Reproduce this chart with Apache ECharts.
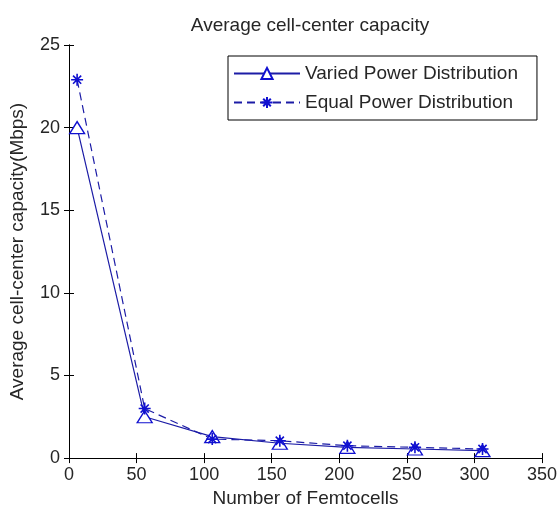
<!DOCTYPE html>
<html>
<head>
<meta charset="utf-8">
<script src="https://cdn.jsdelivr.net/npm/echarts@6/dist/echarts.min.js"></script>
<style>
  html, body { margin: 0; padding: 0; background: #fff; }
  #chart { width: 560px; height: 513px; }
</style>
</head>
<body>
<div id="chart"></div>
<script>
// Number of femtocells
const femtocells = [6, 56, 106, 156, 206, 256, 306];
// Average cell-center capacity (Mbps)
const variedPower = [20.0, 2.5, 1.3, 0.9, 0.65, 0.55, 0.45];
const equalPower = [22.9, 3.0, 1.15, 1.05, 0.75, 0.65, 0.55];

const seriesNames = ["Varied Power Distribution", "Equal Power Distribution"];

const font = "Liberation Sans, Arial, sans-serif";
const textColor = "#262626";
const blue = "#1c1ca6";
const starPath = "path://M0,5L10,5M5,0L5,10M1.6,1.6L8.4,8.4M8.4,1.6L1.6,8.4";

const toPairs = (xs, ys) => xs.map((x, i) => [x, ys[i]]);

const chart = echarts.init(document.getElementById("chart"));

const option = {
  backgroundColor: "#fff",
  animation: false,
  title: {
    text: "Average cell-center capacity",
    left: 305,
    top: 11,
    textAlign: "center",
    textStyle: { fontFamily: font, fontSize: 19, fontWeight: "normal", color: textColor },
  },
  legend: {
    orient: "vertical",
    left: 228,
    top: 56,
    borderColor: "#000",
    borderWidth: 1,
    padding: [8, 19, 8, 5],
    itemGap: 10,
    itemWidth: 66,
    itemHeight: 14,
    textStyle: { fontFamily: font, fontSize: 19, color: textColor },
    data: seriesNames,
  },
  grid: { left: 69, right: 15, top: 45, bottom: 52 },
  xAxis: [
    {
      type: "value",
      min: 0,
      max: 350,
      interval: 50,
      name: "Number of Femtocells",
      nameLocation: "middle",
      nameGap: 27,
      nameTextStyle: { fontFamily: font, fontSize: 19, color: textColor },
      axisLine: { lineStyle: { color: "#000", width: 1 } },
      axisTick: { inside: true, length: 5, lineStyle: { color: "#000" } },
      axisLabel: { fontFamily: font, fontSize: 18, color: textColor, margin: 8 },
      splitLine: { show: false },
    },
    {
      type: "value",
      position: "top",
      min: 0,
      max: 350,
      interval: 50,
      axisLine: { show: true, lineStyle: { color: "#000", width: 1 } },
      axisTick: { inside: true, length: 5, lineStyle: { color: "#000" } },
      axisLabel: { show: false },
      splitLine: { show: false },
    },
  ],
  yAxis: [
    {
      type: "value",
      min: 0,
      max: 25,
      interval: 5,
      name: "Average cell-center capacity(Mbps)",
      nameLocation: "middle",
      nameGap: 42,
      nameTextStyle: { fontFamily: font, fontSize: 19, color: textColor },
      axisLine: { show: true, lineStyle: { color: "#000", width: 1 } },
      axisTick: { show: true, inside: true, length: 5, lineStyle: { color: "#000" } },
      axisLabel: { fontFamily: font, fontSize: 18, color: textColor, margin: 9 },
      splitLine: { show: false },
    },
    {
      type: "value",
      position: "right",
      min: 0,
      max: 25,
      interval: 5,
      axisLine: { show: true, lineStyle: { color: "#000", width: 1 } },
      axisTick: { show: true, inside: true, length: 5, lineStyle: { color: "#000" } },
      axisLabel: { show: false },
      splitLine: { show: false },
    },
  ],
  series: [
    {
      name: seriesNames[0],
      type: "line",
      data: toPairs(femtocells, variedPower),
      symbol: "triangle",
      symbolSize: [15, 12],
      showAllSymbol: true,
      lineStyle: { color: blue, width: 1.2, type: "solid" },
      itemStyle: { color: "#fff", borderColor: "#1010d0", borderWidth: 1.3 },
    },
    {
      name: seriesNames[1],
      type: "line",
      data: toPairs(femtocells, equalPower),
      symbol: starPath,
      symbolSize: 12,
      showAllSymbol: true,
      lineStyle: { color: blue, width: 1.2, type: [8, 5] },
      itemStyle: { color: "#1010d0", borderColor: "#1010d0", borderWidth: 1.6 },
    },
  ],
};

chart.setOption(option);
</script>
</body>
</html>
